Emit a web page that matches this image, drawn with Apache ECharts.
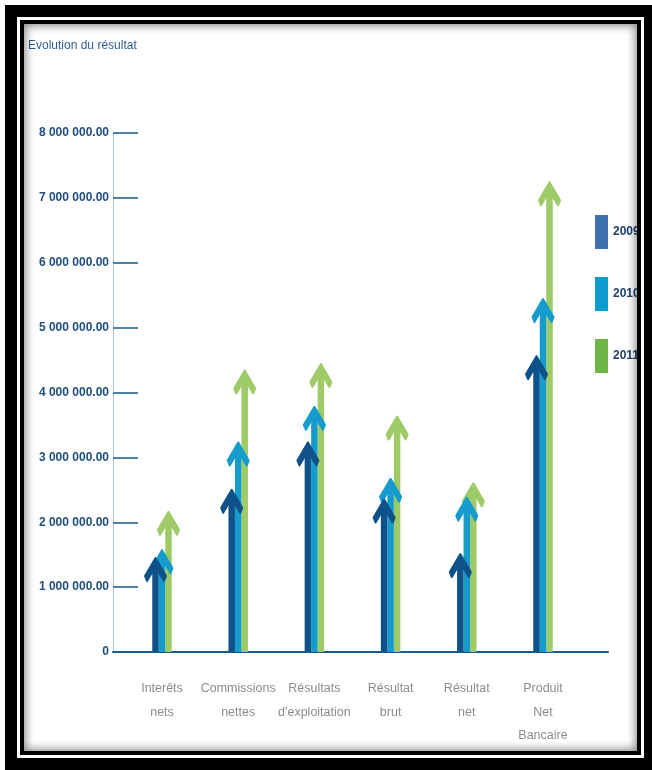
<!DOCTYPE html>
<html>
<head>
<meta charset="utf-8">
<script src="https://cdn.jsdelivr.net/npm/echarts@6/dist/echarts.min.js"></script>
<style>
  html, body { margin: 0; padding: 0; background: #fff; }
  #chart { position: absolute; left: 0; top: 0; width: 652px; height: 770px; }
  /* double black frame drawn over the chart */
  #frame {
    position: absolute; left: 5px; top: 5px; width: 647px; height: 765px;
    box-sizing: border-box; border-style: solid; border-color: #000;
    border-width: 12px 8px 12px 12px; pointer-events: none; z-index: 5;
  }
  #frame .gap { position: absolute; inset: 0; border: 3px solid #fff; }
  #frame .inner {
    position: absolute; inset: 3px; border: 4px solid #000;
    box-shadow: inset 0 0 9px 2px rgba(0,0,0,0.45);
  }
</style>
</head>
<body>
<div id="chart"></div>
<div id="frame"><div class="gap"></div><div class="inner"></div></div>
<script>
// Categories and yearly results
const categories = [
  'Interêts\nnets',
  'Commissions\nnettes',
  'Résultats\nd\'exploitation',
  'Résultat\nbrut',
  'Résultat\nnet',
  'Produit\nNet\nBancaire'
];
const years = ['2009', '2010', '2011'];
const values2009 = [1450000, 2500000, 3230000, 2350000, 1510000, 4560000];
const values2010 = [1570000, 3230000, 3780000, 2670000, 2380000, 5440000];
const values2011 = [2160000, 4340000, 4440000, 3630000, 2600000, 7240000];
const yTicks = [0, 1000000, 2000000, 3000000, 4000000, 5000000, 6000000, 7000000, 8000000];

const arrowColors = ['#0f5289', '#169bcd', '#9ecb68'];
const legendColors = ['#4070ae', '#0b9bd0', '#70b548'];

const sans = '"Liberation Sans", Arial, sans-serif';

function fmt(v) {
  if (v === 0) return '0';
  return Math.round(v).toString().replace(/\B(?=(\d{3})+(?!\d))/g, ' ') + '.00';
}

// Arrow: shaft plus chevron head, tip placed at the value
function renderArrow(params, api) {
  const x = api.value(0);
  const v = api.value(1);
  const base = api.coord([x, 0]);
  const tip = api.coord([x, v]);
  const shaftW = 6.5;
  const cx = base[0] + (params.seriesIndex - 1) * shaftW;
  const ty = tip[1];
  const by = base[1];
  const color = arrowColors[params.seriesIndex];
  const half = shaftW / 2;
  return {
    type: 'group',
    children: [
      {
        type: 'rect',
        shape: { x: cx - half, y: ty + 6, width: shaftW, height: by - ty - 6 },
        style: { fill: color }
      },
      {
        type: 'polygon',
        shape: {
          points: [
            [cx, ty], [cx + 10.5, ty + 18], [cx + 8.5, ty + 23],
            [cx + half, ty + 14], [cx - half, ty + 14],
            [cx - 8.5, ty + 23], [cx - 10.5, ty + 18]
          ]
        },
        style: { fill: color, stroke: color, lineWidth: 2, lineJoin: 'round' }
      }
    ]
  };
}

const seriesValues = [values2009, values2010, values2011];

const chart = echarts.init(document.getElementById('chart'), null, { renderer: 'canvas' });
chart.setOption({
  animation: false,
  backgroundColor: 'transparent',
  title: {
    text: 'Evolution du résultat',
    left: 28, top: 40, padding: 0,
    textStyle: { fontFamily: sans, fontSize: 12, fontWeight: 'normal', color: '#2f5f8f' }
  },
  legend: {
    orient: 'vertical',
    left: 595, top: 215, padding: 0,
    itemWidth: 13, itemHeight: 34, itemGap: 28,
    icon: 'rect',
    data: years.map((y, i) => ({ name: y, itemStyle: { color: legendColors[i] } })),
    textStyle: { fontFamily: sans, fontSize: 12, fontWeight: 'bold', color: '#1e3f6d' }
  },
  grid: { left: 113, right: 44, top: 133, bottom: 118 },
  xAxis: {
    type: 'value',
    min: -0.643, max: 5.853,
    splitLine: { show: false },
    axisTick: { show: false },
    axisLine: { show: true, lineStyle: { color: '#1b5a8c', width: 2 } },
    axisLabel: {
      customValues: [0, 1, 2, 3, 4, 5],
      formatter: v => categories[Math.round(v)],
      margin: 25,
      fontFamily: sans, fontSize: 12.5, lineHeight: 23.5, color: '#8c8c8c',
      align: 'center', verticalAlign: 'top'
    }
  },
  yAxis: {
    type: 'value',
    min: yTicks[0], max: yTicks[yTicks.length - 1], interval: 1000000,
    splitLine: { show: false },
    axisLine: { show: true, onZero: false, lineStyle: { color: '#adc6d6', width: 1 } },
    axisTick: { show: true, inside: true, length: 25, lineStyle: { color: '#1b5a8c', width: 1.5 } },
    axisLabel: {
      formatter: fmt, margin: 4,
      fontFamily: sans, fontSize: 12, fontWeight: 'bold', color: '#1f4e7e'
    }
  },
  series: years.map((y, i) => ({
    name: y,
    type: 'custom',
    renderItem: renderArrow,
    itemStyle: { color: arrowColors[i] },
    z: 4 - i,
    data: seriesValues[i].map((v, k) => [k, v])
  }))
});
</script>
</body>
</html>
